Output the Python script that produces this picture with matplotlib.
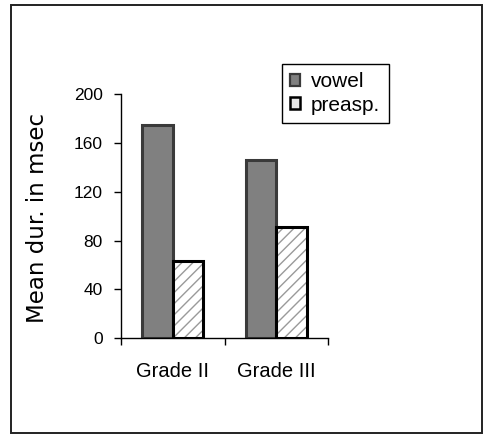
import matplotlib
matplotlib.use("Agg")
import matplotlib.pyplot as plt
from matplotlib.patches import Patch, Rectangle
import numpy as np

categories = ["Grade II", "Grade III"]
series_names = ["vowel", "preasp."]
vowel = [175, 146]
preasp = [63, 91]
y_ticks = [0, 40, 80, 120, 160, 200]
y_label = "Mean dur. in msec"

DPI = 100
fig = plt.figure(figsize=(4.91, 4.40), dpi=DPI)
W, H = 491, 440

def fx(px):
    return px / W

def fy(py):
    return 1 - py / H

# outer chart frame
fig.patches.append(Rectangle((fx(10.5), fy(432.5)), fx(481.5) - fx(10.5), fy(5.5) - fy(432.5),
                             transform=fig.transFigure, fill=False,
                             edgecolor="#222222", linewidth=1.4))

ax = fig.add_axes([fx(121), fy(338.3), fx(328) - fx(121), fy(94) - fy(338.3)])
ax.set_facecolor("none")

x = np.arange(len(categories))
bw = 0.295

# vowel bars
ax.bar(x - bw / 2, vowel, width=bw, color="#808080", edgecolor="#3a3a3a", linewidth=2.2, zorder=2)
# preasp bars: gray hatch, then a black outline on top
ax.bar(x + bw / 2, preasp, width=bw, color="white", edgecolor="#9a9a9a", hatch="///",
       linewidth=0, zorder=2)
ax.bar(x + bw / 2, preasp, width=bw, fill=False, edgecolor="black", linewidth=2.2, zorder=3)

ax.set_xlim(-0.5, 1.5)
ax.set_ylim(0, 200)

for s in ["top", "right"]:
    ax.spines[s].set_visible(False)
for s in ["left", "bottom"]:
    ax.spines[s].set_color("black")
    ax.spines[s].set_linewidth(1.0)

ax.set_yticks(y_ticks)
ax.set_yticklabels([str(v) for v in y_ticks], fontfamily="Liberation Sans", fontsize=12.5)
ax.tick_params(axis="y", direction="out", length=5, width=1, pad=8, colors="black")

ax.set_xticks(x)
ax.set_xticklabels(categories, fontfamily="Liberation Sans", fontsize=14.5)
ax.set_xticks([-0.5, 0.5, 1.5], minor=True)
ax.tick_params(axis="x", which="major", length=0, pad=17)
ax.tick_params(axis="x", which="minor", direction="out", length=5, width=1)

fig.text(fx(38), fy(218), y_label, rotation=90, ha="center", va="center",
         fontfamily="DejaVu Sans", fontsize=16.5)

handles = [
    Patch(facecolor="#808080", edgecolor="#3a3a3a", linewidth=1.6),
    Patch(facecolor="#e8e8e8", edgecolor="black", linewidth=1.8),
]
leg = fig.legend(handles, series_names, loc="upper left",
                 bbox_to_anchor=(fx(282), fy(64)), bbox_transform=fig.transFigure,
                 prop={"family": "Liberation Sans", "size": 15},
                 frameon=True, fancybox=False, framealpha=1, edgecolor="black",
                 handlelength=0.45, handleheight=0.45, handletextpad=0.55,
                 borderpad=0.4, labelspacing=0.2, borderaxespad=0)
leg.get_frame().set_linewidth(1.0)

fig.savefig("out.png", dpi=DPI)
